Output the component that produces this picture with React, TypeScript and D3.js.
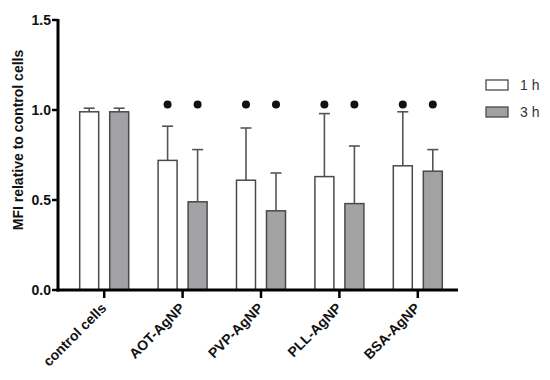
import React from 'react'
import * as d3 from 'd3'

const categories = ['control cells', 'AOT-AgNP', 'PVP-AgNP', 'PLL-AgNP', 'BSA-AgNP']
const seriesNames = ['1 h', '3 h']
const mean1h = [0.99, 0.72, 0.61, 0.63, 0.69]
const mean3h = [0.99, 0.49, 0.44, 0.48, 0.66]
const errTop1h = [1.01, 0.91, 0.90, 0.98, 0.99]
const errTop3h = [1.01, 0.78, 0.65, 0.80, 0.78]
// significance marks (dot above bar), per group
const sig1h = [false, true, true, true, true]
const sig3h = [false, true, true, true, true]
const sigLevel = 1.03
const yTicks = [0, 0.5, 1.0, 1.5]

const W = 550
const H = 380
const font = '"Liberation Sans", Arial, sans-serif'

export default function App() {
  const y = d3.scaleLinear().domain([0, 1.5]).range([290, 20])
  const x = d3.scaleBand<string>().domain(categories).range([65, 457])
    .paddingInner(0.375).paddingOuter(0.1875)
  const xs = d3.scaleBand<string>().domain(seriesNames).range([0, x.bandwidth()])
    .paddingInner(0.367).paddingOuter(0)

  const fills = ['#ffffff', '#a2a2a5']
  const means = [mean1h, mean3h]
  const errs = [errTop1h, errTop3h]
  const sigs = [sig1h, sig3h]

  const axisLeft = 58
  const axisRight = 458

  return (
    <svg width={W} height={H} style={{ position: 'absolute', left: 0, top: 0, background: '#fff' }}
      fontFamily={font}>
      {/* bars, error bars, dots */}
      {categories.map((c, i) => (
        <g key={c} transform={`translate(${x(c)},0)`}>
          {seriesNames.map((s, k) => {
            const bx = xs(s)!
            const bw = xs.bandwidth()
            const cx = bx + bw / 2
            const v = means[k][i]
            return (
              <g key={s}>
                <line x1={cx} x2={cx} y1={y(v)} y2={y(errs[k][i])} stroke="#555" strokeWidth={1.6} />
                <line x1={cx - 5.5} x2={cx + 5.5} y1={y(errs[k][i])} y2={y(errs[k][i])} stroke="#555" strokeWidth={1.6} />
                <rect x={bx} y={y(v)} width={bw} height={y(0) - y(v)} fill={fills[k]} stroke="#4a4a4a" strokeWidth={1.5} />
                {sigs[k][i] && <circle cx={cx} cy={y(sigLevel)} r={4} fill="#111" />}
              </g>
            )
          })}
        </g>
      ))}

      {/* y axis */}
      <line x1={axisLeft} x2={axisLeft} y1={y(1.5) - 1} y2={y(0) + 1.5} stroke="#000" strokeWidth={3} />
      {yTicks.map(t => (
        <g key={t}>
          <line x1={axisLeft - 6} x2={axisLeft} y1={y(t)} y2={y(t)} stroke="#000" strokeWidth={2.5} />
          <text x={axisLeft - 7} y={y(t)} dy="0.35em" textAnchor="end" fontSize={14} fontWeight="bold" fill="#111">
            {d3.format('.1f')(t)}
          </text>
        </g>
      ))}
      <text transform={`translate(23,140) rotate(-90)`} textAnchor="middle" fontSize={14} fontWeight="bold" fill="#111">
        MFI relative to control cells
      </text>

      {/* x axis */}
      <line x1={axisLeft - 1.5} x2={axisRight} y1={y(0)} y2={y(0)} stroke="#000" strokeWidth={3} />
      {categories.map(c => {
        const cx = x(c)! + x.bandwidth() / 2
        return (
          <g key={c}>
            <line x1={cx} x2={cx} y1={y(0)} y2={y(0) + 8} stroke="#000" strokeWidth={2.5} />
            <text transform={`translate(${cx + 3},${y(0) + 19}) rotate(-45)`} textAnchor="end" fontSize={14}
              fontWeight="bold" fill="#111">
              {c}
            </text>
          </g>
        )
      })}

      {/* legend */}
      {seriesNames.map((s, k) => (
        <g key={s} transform={`translate(486,${80 + k * 27})`}>
          <rect x={0} y={0} width={22} height={10} fill={fills[k]} stroke="#4a4a4a" strokeWidth={1.3} />
          <text x={34} y={5} dy="0.36em" fontSize={14} fill="#333">{s}</text>
        </g>
      ))}
    </svg>
  )
}
